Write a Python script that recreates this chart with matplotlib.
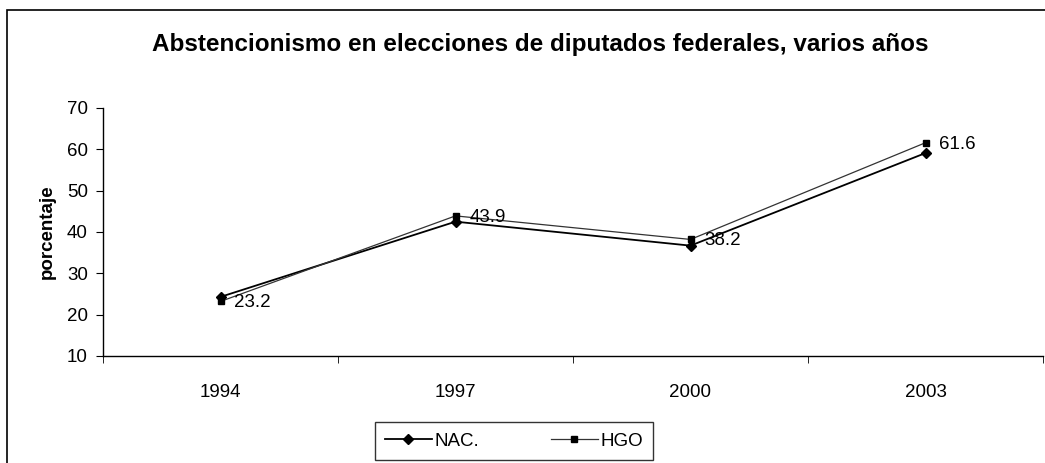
import matplotlib
matplotlib.use("Agg")
import matplotlib.pyplot as plt
from matplotlib.patches import Rectangle

plt.rcParams["font.family"] = ["Liberation Sans", "DejaVu Sans"]

years = ["1994", "1997", "2000", "2003"]
nac = [24.3, 42.5, 36.7, 59.1]
hgo = [23.2, 43.9, 38.2, 61.6]
hgo_labels = ["23.2", "43.9", "38.2", "61.6"]

fig = plt.figure(figsize=(10.45, 4.63), dpi=100)
ax = fig.add_axes([103 / 1045, 1 - 356 / 463, 940 / 1045, 248 / 463])

# outer chart border (cut off at right and bottom like the scan)
fig.patches.append(Rectangle((7 / 1045, -0.1), 1.2, 1 - 10 / 463 + 0.1,
                             transform=fig.transFigure, fill=False,
                             edgecolor="black", linewidth=1.2))

x = list(range(len(years)))
ax.plot(x, nac, color="black", linewidth=1.3, marker="D", markersize=5,
        label="NAC.")
ax.plot(x, hgo, color="#333333", linewidth=0.9, marker="s", markersize=5,
        markerfacecolor="black", markeredgecolor="black", label="HGO")

for xi, yi, lab in zip(x, hgo, hgo_labels):
    ax.annotate(lab, (xi, yi), xytext=(10, -1), textcoords="offset points",
                ha="left", va="center", fontsize=13.5)

ax.set_xlim(-0.5, 3.5)
ax.set_ylim(10, 70)
ax.set_yticks(range(10, 71, 10))
ax.set_xticks(x)
ax.set_xticklabels(years, fontsize=13.5)
ax.set_xticks([-0.5, 0.5, 1.5, 2.5, 3.5], minor=True)
ax.tick_params(axis="x", which="major", length=0, pad=20)
ax.tick_params(axis="x", which="minor", length=5, direction="out")
ax.tick_params(axis="y", labelsize=13.5, length=5, direction="out", pad=6)

ax.spines["top"].set_visible(False)
ax.spines["right"].set_visible(False)
ax.spines["left"].set_linewidth(1.0)
ax.spines["bottom"].set_linewidth(1.0)

ax.set_ylabel("porcentaje", fontsize=13.5, fontweight="bold", labelpad=8)

fig.text(540 / 1045, 1 - 45 / 463,
         "Abstencionismo en elecciones de diputados federales, varios años",
         ha="center", va="center", fontsize=17.5, fontweight="bold")

leg = fig.legend(loc="center", bbox_to_anchor=(514 / 1045, 1 - 441 / 463),
                 ncol=2, fontsize=13.5, frameon=True, fancybox=False,
                 edgecolor="black", handlelength=2.5, handletextpad=0.15,
                 columnspacing=3.8, borderpad=0.55, borderaxespad=0)
leg.get_frame().set_linewidth(1.0)

fig.savefig("out.png", dpi=100)
